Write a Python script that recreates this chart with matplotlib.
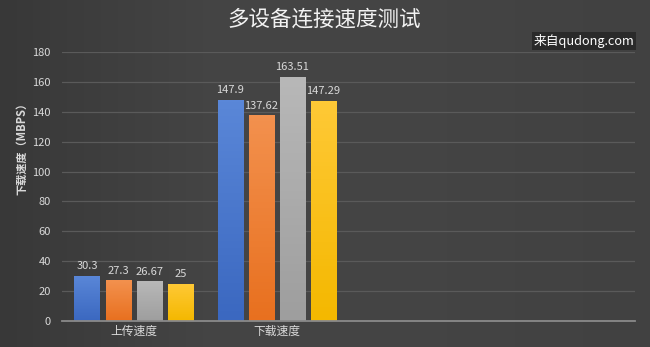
import numpy as np
import matplotlib
matplotlib.use("Agg")
import matplotlib.pyplot as plt
from matplotlib.colors import LinearSegmentedColormap

plt.rcParams['font.family'] = ['Noto Sans CJK SC', 'DejaVu Sans']

# data
categories = ["上传速度", "下载速度", "", ""]
series_names = ["设备1", "设备2", "设备3", "设备4"]
device1 = [30.3, 147.9]
device2 = [27.3, 137.62]
device3 = [26.67, 163.51]
device4 = [25, 147.29]
series = [device1, device2, device3, device4]
yticks = [0, 20, 40, 60, 80, 100, 120, 140, 160, 180]

# (top, bottom) colours of each series' gradient fill
bar_colors = [("#5a87d8", "#3b68c0"),
              ("#f3914e", "#e8701f"),
              ("#b8b8b8", "#9e9e9e"),
              ("#ffc936", "#f4b800")]

fig = plt.figure(figsize=(6.5, 3.47), dpi=100)

# dark background, darker towards the left edge
bg = fig.add_axes([0, 0, 1, 1], zorder=-10)
xx = np.linspace(0, 1, 300)
yy = np.linspace(0, 1, 160)
X, Y = np.meshgrid(xx, yy)
shade = 0.22 + 0.05 * np.clip(X * 3, 0, 1) - 0.015 * np.clip((X - 0.6) * 2.5, 0, 1)
bg.imshow(np.dstack([shade, shade, shade]), aspect="auto", extent=[0, 1, 0, 1],
          origin="lower")
bg.set_axis_off()

ax = fig.add_axes([62 / 650, 1 - 321 / 347, 573 / 650, 269 / 347])
ax.set_facecolor("none")

n = len(series)
step = 0.217
width = 0.175
x = np.arange(len(device1))
for i, (vals, (c_top, c_bot)) in enumerate(zip(series, bar_colors)):
    pos = x + (i - (n - 1) / 2) * step
    bars = ax.bar(pos, vals, width, color=c_bot, zorder=3, edgecolor="none")
    cmap = LinearSegmentedColormap.from_list("g", [c_bot, c_top])
    grad = np.linspace(0, 1, 64).reshape(-1, 1)
    for b, v in zip(bars, vals):
        im = ax.imshow(grad, cmap=cmap, aspect="auto", origin="lower",
                       extent=[b.get_x(), b.get_x() + b.get_width(), 0, v],
                       zorder=3.5)
        im.set_clip_path(b)
        ax.text(b.get_x() + b.get_width() / 2, v + 3, f"{v:g}",
                ha="center", va="bottom", fontsize=8, color="#d9d9d9",
                zorder=5)

ax.set_xlim(-0.5, len(categories) - 0.5)
ax.set_ylim(0, 180)
ax.set_yticks(yticks)
ax.set_xticks(np.arange(len(categories)))
ax.set_xticklabels(categories)
ax.tick_params(axis="both", length=0, colors="#d9d9d9", labelsize=8)
ax.tick_params(axis="x", pad=3, labelsize=8.5)
ax.tick_params(axis="y", pad=8)
ax.grid(axis="y", color="#5a5a5a", linewidth=0.9, zorder=0)
for s in ["top", "right", "left"]:
    ax.spines[s].set_visible(False)
ax.spines["bottom"].set_color("#8a8a8a")
ax.spines["bottom"].set_linewidth(1.3)
ax.spines["bottom"].set_zorder(4)

fig.text(22 / 650, 1 - 146 / 347, "下载速度（MBPS）", rotation=90, ha="center",
         va="center", fontsize=8, color="#d9d9d9", fontweight="bold")

fig.text(324 / 650, 1 - 20 / 347, "多设备连接速度测试", ha="center", va="center",
         fontsize=15.5, color="#f2f2f2", fontweight="medium")

fig.text(584 / 650, 1 - 41 / 347, "来自qudong.com", ha="center", va="center",
         fontsize=9.2, color="white",
         bbox=dict(boxstyle="square,pad=0.15", facecolor="#2a2a2a",
                   edgecolor="none"))

fig.savefig("out.png", dpi=100)
